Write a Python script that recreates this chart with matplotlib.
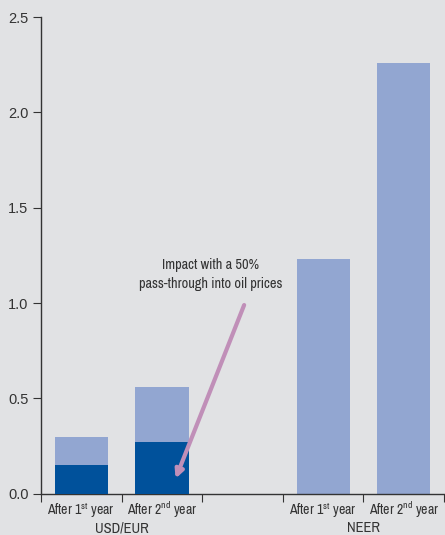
import numpy as np
import matplotlib.pyplot as plt

plt.rcParams['font.family'] = ['Archivo Narrow', 'Roboto Condensed', 'DejaVu Sans']
plt.rcParams['mathtext.default'] = 'regular'

# total impact (light) and impact with 50% pass-through into oil prices (dark)
slots = [0, 1, 3, 4]
total = [0.30, 0.56, 1.23, 2.26]
passthrough = [0.15, 0.27, None, None]
cat_labels = ['After 1$^{st}$ year', 'After 2$^{nd}$ year',
              'After 1$^{st}$ year', 'After 2$^{nd}$ year']
groups = ['USD/EUR', 'NEER']

light = '#92a6d1'
dark = '#00519b'
bg = '#e1e2e4'
txt = '#333333'

fig = plt.figure(figsize=(4.45, 5.35), dpi=100, facecolor=bg)
ax = fig.add_axes([0.092, 0.077, 0.906, 0.891], facecolor=bg)

ax.bar(slots, total, width=0.66, color=light, zorder=2)
for s, v in zip(slots, passthrough):
    if v is not None:
        ax.bar(s, v, width=0.66, color=dark, zorder=3)

ax.set_xlim(-0.5, 4.5)
ax.set_ylim(0, 2.5)
yt = np.arange(0, 2.51, 0.5)
ax.set_yticks(yt)
ax.set_yticklabels([f'{v:.1f}' for v in yt], family='Liberation Sans',
                   fontsize=10.5, color=txt)
ax.tick_params(axis='y', length=6, width=0.8, color=txt, pad=3)

# ticks between the category slots
ax.set_xticks(np.arange(-0.5, 4.6, 1))
ax.set_xticklabels([])
ax.tick_params(axis='x', length=6, width=0.8, color=txt)

for s, lab in zip(slots, cat_labels):
    ax.text(s, -0.034, lab, ha='center', va='center', fontsize=10,
            color=txt, transform=ax.get_xaxis_transform())
for x, g in zip([0.5, 3.5], groups):
    ax.text(x, -0.072, g, ha='center', va='center', fontsize=10.5,
            color=txt, transform=ax.get_xaxis_transform())

for side in ['top', 'right']:
    ax.spines[side].set_visible(False)
for side in ['left', 'bottom']:
    ax.spines[side].set_color(txt)
    ax.spines[side].set_linewidth(1)

ax.text(1.6, 1.15, 'Impact with a 50%\npass-through into oil prices',
        ha='center', va='center', fontsize=10.3, color=txt, linespacing=1.45)
ax.annotate('', xy=(1.17, 0.08), xytext=(2.02, 0.99),
            arrowprops=dict(arrowstyle='-|>', color='#c08fb8', lw=3,
                            mutation_scale=12, shrinkA=0, shrinkB=0))

fig.savefig('out.png', dpi=100, facecolor=bg)
